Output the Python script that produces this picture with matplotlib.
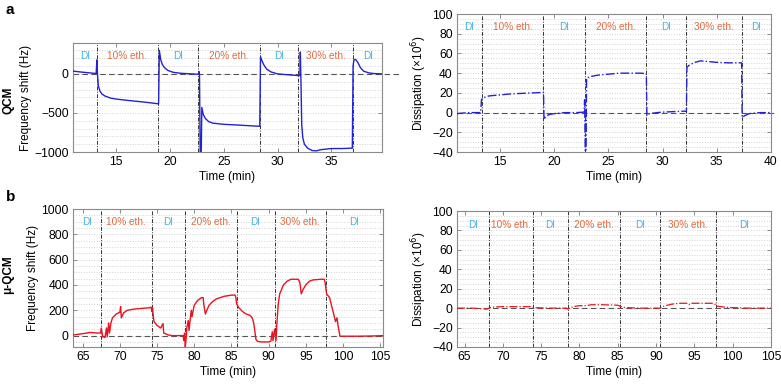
import matplotlib
matplotlib.use("Agg")
import matplotlib.pyplot as plt
import numpy as np
from matplotlib.ticker import MultipleLocator

plt.rcParams['font.family'] = ['Liberation Sans', 'DejaVu Sans']
plt.rcParams['font.size'] = 8.3
plt.rcParams['axes.unicode_minus'] = True

# --- QCM, frequency shift (Hz) ---
qcm_f_t = [11.0, 12.0, 13.15, 13.22, 13.27, 13.35, 13.5, 13.7, 14.0, 14.5, 15.0, 16.0, 17.0, 18.0,
           18.9, 18.95, 19.02, 19.15, 19.3, 19.5, 19.8, 20.3, 21.0, 22.0, 22.65, 22.7, 22.75,
           22.82, 22.9, 22.97, 23.1, 23.3, 23.6, 24.0, 25.0, 26.0, 27.0, 28.0, 28.35, 28.42,
           28.55, 28.75, 29.0, 29.4, 30.0, 31.0, 32.0, 32.08, 32.12, 32.18, 32.25, 32.35, 32.5,
           32.8, 33.2, 33.6, 34.0, 35.0, 36.0, 36.95, 37.02, 37.1, 37.25, 37.45, 37.7, 38.0,
           38.5, 39.0, 39.7]
qcm_f_v = [35, 20, 5, 180, 0, -150, -220, -260, -285, -310, -322, -338, -352, -367,
           -382, -385, 300, 180, 120, 80, 45, 20, 8, 0, -5, 30, -5,
           -1100, -1100, -430, -520, -570, -610, -630, -645, -652, -660, -668, -670, 220,
           170, 110, 60, 25, 0, -12, -22, -22, 280, -100, -650, -820, -900,
           -950, -980, -985, -970, -955, -955, -950, 100, 180, 185, 150, 80, 35,
           12, 4, 0]

# --- QCM, dissipation (x10^6) ---
qcm_d_t = [11.0, 12.0, 13.2, 13.27, 13.4, 14.0, 15.0, 16.0, 17.0, 18.0, 19.0, 19.05, 19.2,
           19.5, 20.0, 21.0, 22.0, 22.75, 22.8, 22.86, 22.93, 22.98, 23.3, 24.0, 25.0, 26.0,
           27.0, 28.0, 28.5, 28.55, 28.8, 29.5, 30.0, 31.0, 32.0, 32.2, 32.25, 32.5, 33.0,
           33.5, 34.0, 35.0, 36.0, 37.3, 37.35, 37.6, 38.0, 39.0, 40.0]
qcm_d_v = [-1, 0, 0, 13, 15, 17, 18, 19, 19.5, 20, 20.5, -7, -4,
           -2, -1, 0, 0, 0.5, 13, -45, -45, 35, 36.5, 38, 39, 40,
           40, 40, 39.5, -3, -1, 0, 0.5, 1, 1.5, 1, 46, 48.5, 51,
           52.5, 52, 51, 50.5, 50.5, -5, -3, -1, 0, 0]

# --- micro-QCM, frequency shift (Hz) ---
uqcm_f_t = [63.7, 65.0, 66.0, 67.0, 67.4, 67.5, 67.7, 68.0, 68.2, 68.3, 68.5, 68.6, 68.8,
            69.0, 69.5, 70.0, 70.1, 70.2, 70.5, 71.0, 72.0, 73.0, 74.0, 74.2, 74.3, 74.4,
            74.5, 74.6, 75.0, 75.5, 75.8, 75.9, 76.5, 77.0, 78.0, 78.5, 78.6, 78.7, 78.8,
            78.9, 79.0, 79.2, 79.3, 79.5, 79.6, 79.7, 80.0, 80.5, 81.0, 81.2, 81.3, 81.5,
            81.7, 82.0, 82.5, 83.0, 84.0, 85.0, 85.5, 85.6, 85.7, 86.0, 86.5, 87.0, 87.5,
            87.8, 88.0, 88.3, 88.5, 89.0, 90.0, 90.3, 90.5, 90.6, 90.8, 91.0, 91.1, 91.3,
            91.5, 92.0, 92.5, 93.0, 94.0, 94.2, 94.4, 94.6, 95.0, 95.5, 96.0, 97.0, 97.5,
            97.6, 97.8, 98.2, 98.5, 98.8, 99.0, 99.2, 99.4, 99.6, 100.0, 102.0, 104.0, 105.4]
uqcm_f_v = [5, 15, 25, 20, 20, 60, -10, -15, 60, -10, 100, 20, 100,
            140, 170, 185, 230, 140, 180, 200, 210, 215, 220, 225, 190, 220,
            150, 110, 80, 60, 95, 20, 5, 0, 0, 0, -40, 20, -90,
            -30, 60, 120, 40, 150, 200, 150, 240, 280, 300, 300, 240, 170,
            200, 240, 270, 290, 310, 320, 320, 300, 250, 220, 190, 170, 160,
            140, 100, -30, -45, -50, -50, -45, 30, -40, 50, -40, 80, 250,
            330, 400, 430, 445, 445, 420, 330, 360, 400, 430, 440, 445, 445,
            420, 330, 300, 230, 160, 110, 140, 60, -5, -5, -5, -3, 0]

# --- micro-QCM, dissipation (x10^6) ---
uqcm_d_t = [64.0, 66.0, 67.9, 68.2, 68.5, 70.0, 72.0, 73.8, 74.0, 76.0, 78.3, 78.5, 79.0,
            79.5, 80.0, 81.0, 81.5, 83.0, 85.0, 85.5, 86.0, 88.0, 90.0, 90.5, 91.0, 92.0,
            93.0, 94.0, 94.3, 94.5, 96.0, 97.5, 98.0, 99.0, 100.0, 102.0, 105.0]
uqcm_d_v = [0, 0, -1, 0, 1, 1.5, 1.5, 1.5, 0.5, 0, 0, -1, 1,
            2, 2.5, 2.5, 3.5, 3.5, 3, 1.5, 0.5, 0, 0, 0, 2, 4,
            5, 5, 3.5, 5, 5, 5, 2, 1, 0.5, 0, 0]

# solution changes (min) as seen on each panel, and segment labels
qcm_f_changes = [13.25, 18.85, 22.65, 28.4, 31.95, 37.05]
qcm_d_changes = [13.3, 19.0, 22.85, 28.5, 32.2, 37.35]
uqcm_f_changes = [67.45, 74.3, 78.7, 85.7, 90.8, 97.7]
uqcm_d_changes = [68.2, 73.9, 78.5, 85.3, 90.5, 97.9]
segment_labels = ["DI", "10% eth.", "DI", "20% eth.", "DI", "30% eth.", "DI"]

blue = "#2222d8"
red = "#e8141e"
c_di = "#45b3e0"
c_eth = "#e06a3e"
frame = "#8a8a8a"

fig = plt.figure(figsize=(7.81, 3.84), dpi=100)
ax_tl = fig.add_axes([0.0935, 0.604, 0.3955, 0.284])
ax_tr = fig.add_axes([0.585, 0.604, 0.402, 0.3595])
ax_bl = fig.add_axes([0.0935, 0.0964, 0.397, 0.3593])
ax_br = fig.add_axes([0.585, 0.0964, 0.402, 0.3541])


def style(ax, xlim, ylim, xmaj, ymaj, ymin, changes, label_y, zero_ext):
    ax.set_xlim(*xlim)
    ax.set_ylim(*ylim)
    ax.xaxis.set_major_locator(MultipleLocator(xmaj))
    ax.yaxis.set_major_locator(MultipleLocator(ymaj))
    ax.yaxis.set_minor_locator(MultipleLocator(ymin))
    ax.grid(True, which="both", axis="y", color="#d4d4d4", linestyle=":", linewidth=0.7)
    ax.set_axisbelow(True)
    for s in ax.spines.values():
        s.set_color(frame)
        s.set_linewidth(0.8)
    ax.tick_params(which="major", direction="in", length=3, width=0.7, color=frame,
                   top=True, right=True, labelsize=8.7, pad=3)
    ax.tick_params(which="minor", length=0)
    for c in changes:
        ax.axvline(c, color="#333333", linestyle=(0, (4, 1.5, 1, 1.5)), linewidth=0.7, zorder=1)
    ax.axhline(0, xmin=0, xmax=zero_ext, color="#555555", linestyle=(0, (5, 3)),
               linewidth=0.8, clip_on=False, zorder=1)
    edges = [xlim[0]] + list(changes) + [xlim[1]]
    for i, lab in enumerate(segment_labels):
        ax.text((edges[i] + edges[i + 1]) / 2, label_y, lab, ha="center", va="center",
                fontsize=7.2, color=c_di if lab == "DI" else c_eth)
    ax.set_xlabel("Time (min)", fontsize=8.5, labelpad=2)


style(ax_tl, (11, 39.7), (-1000, 395), 5, 500, 100, qcm_f_changes, 235, 1.06)
ax_tl.plot(qcm_f_t, qcm_f_v, color=blue, linewidth=1.0, zorder=3)
ax_tl.set_ylabel("Frequency shift (Hz)", fontsize=8.5, labelpad=2)

style(ax_tr, (11, 40), (-40, 100), 5, 20, 5, qcm_d_changes, 87, 1.02)
ax_tr.plot(qcm_d_t, qcm_d_v, color=blue, linewidth=1.0, linestyle="-.", zorder=3)
ax_tr.set_ylabel("Dissipation (×10$^6$)", fontsize=8.5, labelpad=2)

style(ax_bl, (63.7, 105.4), (-90, 1000), 5, 200, 50, uqcm_f_changes, 900, 1.0)
ax_bl.plot(uqcm_f_t, uqcm_f_v, color=red, linewidth=1.0, zorder=3)
ax_bl.set_ylabel("Frequency shift (Hz)", fontsize=8.5, labelpad=2)

style(ax_br, (64, 105), (-40, 100), 5, 20, 5, uqcm_d_changes, 86, 1.0)
ax_br.plot(uqcm_d_t, uqcm_d_v, color=red, linewidth=0.9, linestyle="-.", zorder=3)
ax_br.set_ylabel("Dissipation (×10$^6$)", fontsize=8.5, labelpad=2)

fig.text(0.007, 0.975, "a", fontsize=11, fontweight="bold", va="center")
fig.text(0.007, 0.487, "b", fontsize=11, fontweight="bold", va="center")
fig.text(0.011, 0.74, "QCM", fontsize=8.5, fontweight="bold", rotation=90, va="center", ha="center")
fig.text(0.011, 0.285, "μ-QCM", fontsize=8.5, fontweight="bold", rotation=90, va="center", ha="center")

fig.savefig("out.png", dpi=100)
